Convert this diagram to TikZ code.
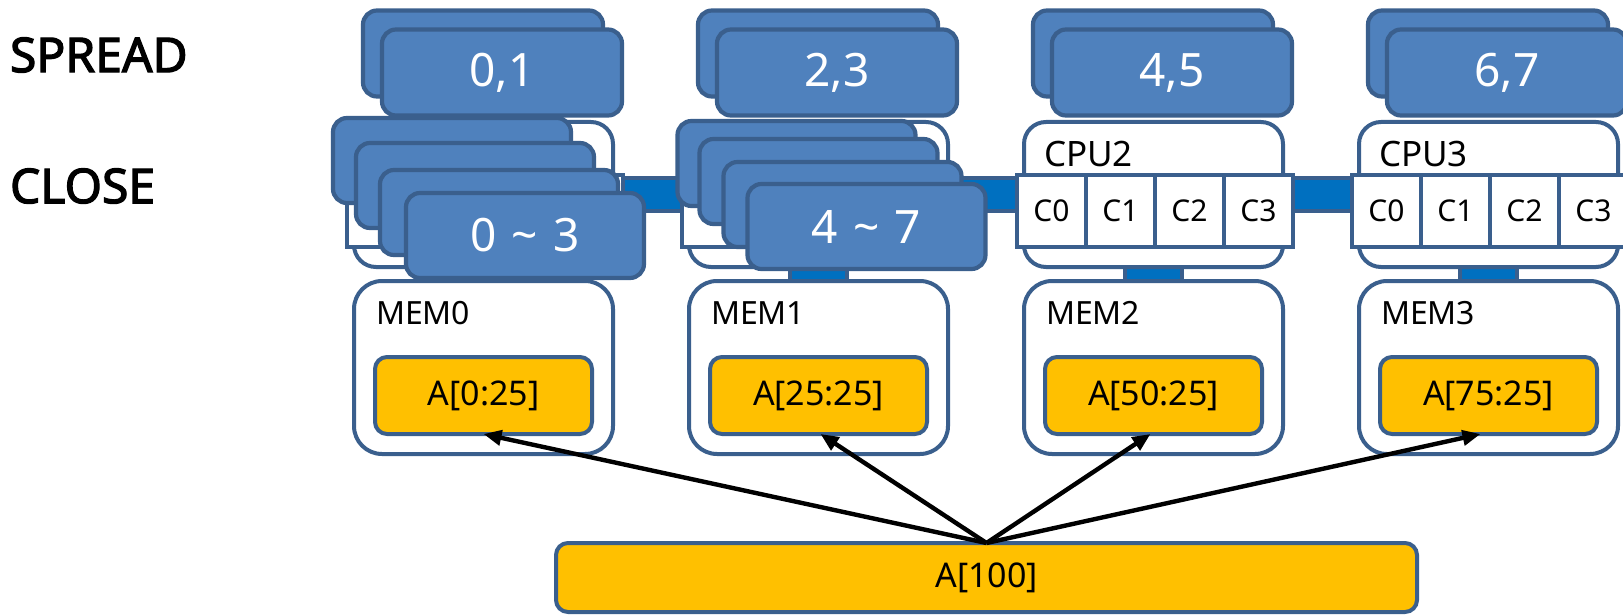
\documentclass[tikz,border=0pt]{standalone}
\usepackage{fontspec}
\setmainfont{Noto Sans}[AutoFakeBold=2.5]
\usetikzlibrary{arrows.meta}
\definecolor{bord}{HTML}{3A5F8D}
\definecolor{boxblue}{HTML}{4F81BD}
\definecolor{busblue}{HTML}{0070C0}
\definecolor{yel}{HTML}{FFC000}
\begin{document}
\begin{tikzpicture}[x=0.5pt,y=-0.5pt,
  every node/.style={inner sep=0pt, outer sep=0pt},
  spreadbox/.style={draw=bord, fill=boxblue, line width=2.1pt, rounded corners=7pt, minimum width=120pt, minimum height=43pt, text=white, font=\fontsize{23}{27}\selectfont},
  closebox/.style={spreadbox, minimum width=119pt, minimum height=42.5pt},
  cpubox/.style={draw=bord, fill=white, line width=2pt, rounded corners=11pt, minimum width=129.5pt, minimum height=72.5pt},
  corecell/.style={draw=bord, fill=white, line width=2pt, minimum width=34.5pt, minimum height=36pt, font=\fontsize{15}{18}\selectfont},
  membox/.style={draw=bord, fill=white, line width=2pt, rounded corners=14pt, minimum width=129.5pt, minimum height=86.5pt},
  databox/.style={draw=bord, fill=yel, line width=2pt, rounded corners=6pt, font=\fontsize{17}{20}\selectfont},
  link/.style={draw=bord, fill=busblue, line width=1.6pt},
  lbl/.style={anchor=west, font=\fontsize{16}{19}\selectfont},
  cpulbl/.style={anchor=west, font=\fontsize{17.5}{21}\selectfont},
  mode/.style={anchor=west, font=\fontsize{24}{28}\selectfont\bfseries},
  arr/.style={-{Triangle[length=9pt,width=7.5pt]}, line width=2.2pt, black}
]
\useasboundingbox (0,0) rectangle (1623,615);

% bus and memory links
\node[link, minimum width=500pt, minimum height=16.5pt] (bus) at (1000,194.5) {};
\foreach \k in {0,...,3}
  \node[link, minimum width=28.5pt, minimum height=11.5pt] (ml\k) at ({483.5+335*\k},273.5) {};

% CPU boxes
\foreach \k in {0,...,3}
  \node[cpubox] (cpu\k) at ({483.5+335*\k},194.5) {};
\foreach \k in {0,1}
  \foreach \j in {0,...,3}
    \node[corecell] (c\k\j) at ({381.5+335*\k+69*\j},211) {};
\foreach \k in {2,3}
  \foreach \j in {0,...,3}
    \node[corecell] (c\k\j) at ({381.5+335*\k+69*\j},211) {C\j};
\node[cpulbl] (cpul2) at (1044,154) {CPU2};
\node[cpulbl] (cpul3) at (1379,154) {CPU3};

% memory boxes
\foreach \k/\v in {0/0,1/25,2/50,3/75}{
  \node[membox] (mem\k) at ({483.5+335*\k},367.5) {};
  \node[lbl] (meml\k) at ({376+335*\k},313) {MEM\k};
  \node[databox, minimum width=108.5pt, minimum height=38.5pt] (y\k) at ({483.5+335*\k},395.5) {A[\v:25]};
}

% spread placement
\foreach \k in {0,...,3}{
  \node[spreadbox] (sb\k) at ({483+335*\k},53.5) {};
  \node[spreadbox] (sf\k) at ({502+335*\k},72.5) {\the\numexpr2*\k\relax,\the\numexpr2*\k+1\relax};
}

% close placement
\node[closebox] (cb01) at (452,160.5) {};
\node[closebox] (cb02) at (475,185.5) {};
\node[closebox] (cb03) at (499,212.5) {};
\node[closebox] (cb04) at (525,235.5) {0\,\,\textasciitilde\,\,3};
\node[closebox] (cb11) at (796.5,163.5) {};
\node[closebox] (cb12) at (818.5,181.5) {};
\node[closebox] (cb13) at (842.5,204.5) {};
\node[closebox] (cb14) at (866.5,226.5) {4\,\,\textasciitilde\,\,7};

% labels
\node[mode] (spread) at (10,55) {SPREAD};
\node[mode] (close) at (10,186) {CLOSE};

% whole array
\node[databox, minimum width=430.5pt, minimum height=34.5pt] (all) at (986.5,577.5) {\raisebox{-2.5pt}{A[100]}};

% arrows
\draw[arr] (all.north) -- (y0.south);
\draw[arr] (all.north) -- ([xshift=1pt]y1.south);
\draw[arr] (all.north) -- ([xshift=-1.5pt]y2.south);
\draw[arr] (all.north) -- ([xshift=-4pt]y3.south);
\end{tikzpicture}
\end{document}
